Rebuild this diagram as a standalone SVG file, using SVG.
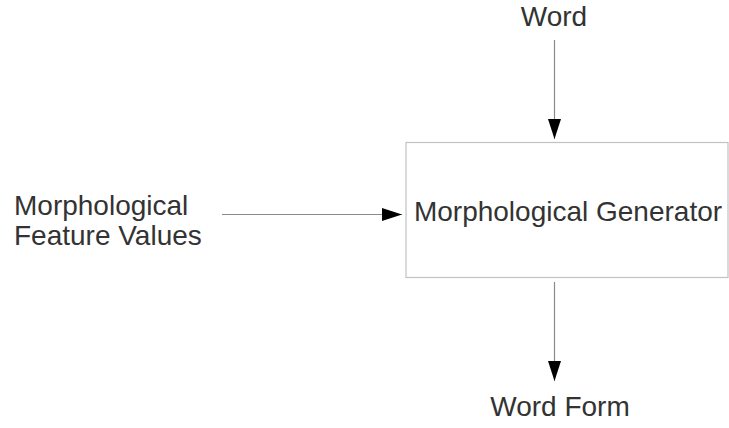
<svg xmlns="http://www.w3.org/2000/svg" width="729" height="428" viewBox="0 0 729 428">
<defs>
<style>
text{font-family:"Liberation Sans",Arial,sans-serif;font-size:28px;fill:#333333}
.c{text-anchor:middle}
.edge{stroke:#8a8a8a;stroke-width:1.2;fill:none}
</style>
<marker id="ah" viewBox="0 0 20 13" refX="20" refY="6.5" markerWidth="20" markerHeight="13" markerUnits="userSpaceOnUse" orient="auto">
<path d="M0,0 L20,6.5 L0,13 Z" fill="#000"/>
</marker>
</defs>
<rect width="729" height="428" fill="#ffffff"/>
<g id="connectors">
<line class="edge" x1="554.5" y1="40" x2="554.5" y2="139" marker-end="url(#ah)"/>
<line class="edge" x1="222" y1="214.5" x2="402" y2="214.5" marker-end="url(#ah)"/>
<line class="edge" x1="554.5" y1="282" x2="554.5" y2="381" marker-end="url(#ah)"/>
</g>
<g id="generator">
<rect x="406" y="142.5" width="322" height="135" fill="#ffffff" stroke="#c2c2c2" stroke-width="1.2"/>
<text class="c" x="568" y="221">Morphological Generator</text>
</g>
<g id="word">
<text class="c" x="554" y="26">Word</text>
</g>
<g id="features">
<text x="14" y="215">Morphological</text>
<text x="14" y="245">Feature Values</text>
</g>
<g id="wordform">
<text class="c" x="560" y="416">Word Form</text>
</g>
</svg>
